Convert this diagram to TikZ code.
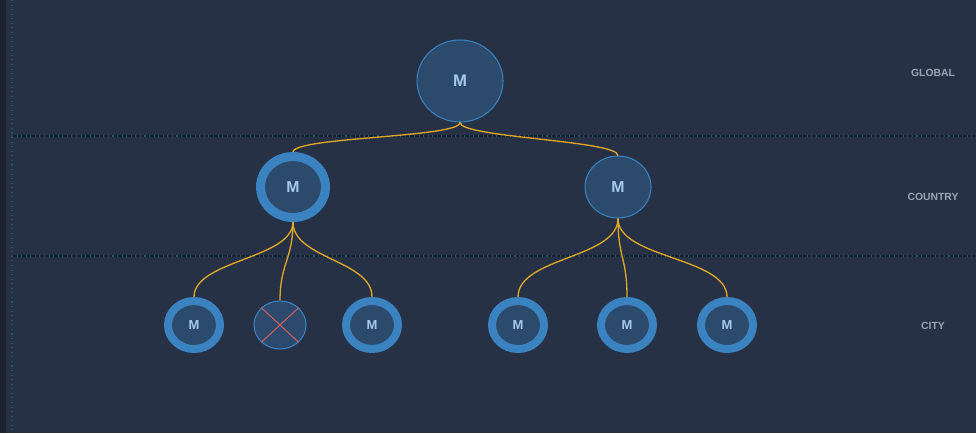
\documentclass[tikz,border=0pt]{standalone}
\usepackage{fontspec}
\setmainfont{Liberation Sans}
\usetikzlibrary{shapes.geometric}
\definecolor{bg}{HTML}{263145}
\definecolor{strip}{HTML}{1E2230}
\definecolor{band}{HTML}{1C202E}
\definecolor{dots}{HTML}{1B5A6A}
\definecolor{nodefill}{HTML}{2C4A6C}
\definecolor{ring}{HTML}{3B82C1}
\definecolor{mtext}{HTML}{A8C9EE}
\definecolor{tier}{HTML}{9BA6B5}
\definecolor{link}{HTML}{E0A828}
\definecolor{cross}{HTML}{D0605E}
\begin{document}
\begin{tikzpicture}[x=0.02cm, y=-0.02cm, every node/.style={inner sep=0pt, font=\bfseries},
    master/.style={ellipse, fill=nodefill, draw=ring, outer sep=auto, text=mtext},
    ringed/.style={master, line width=0.16cm, minimum width=1.04cm, minimum height=0.96cm, font=\bfseries\fontsize{7.4}{8}\selectfont},
    tiername/.style={text=tier, font=\bfseries\fontsize{5.9}{7}\selectfont},
    divider/.style={band, line width=1.7pt},
    conn/.style={link, line width=0.75pt}]
  \fill [bg] (0,0) rectangle (976,433);
  \fill [strip] (0,0) rectangle (6,433);
  \useasboundingbox (0,0) rectangle (976,433);
  \draw [dots, dotted, line width=0.6pt] (12,0) -- (12,433);
  \draw [divider] (12,136) -- (976,136);
  \draw [dots, dotted, line width=0.6pt] (12,136) -- (976,136);
  \draw [divider] (12,256) -- (976,256);
  \draw [dots, dotted, line width=0.6pt] (12,256) -- (976,256);
  % tiers
  \node [tiername] (global) at (933,73) {GLOBAL};
  \node [tiername] (country) at (933,197) {COUNTRY};
  \node [tiername] (city) at (933,326) {CITY};
  % masters
  \node [master, line width=0.6pt, minimum width=1.72cm, minimum height=1.64cm, font=\bfseries\fontsize{9.5}{10}\selectfont] (1) at (460,81) {M};
  \node [master, line width=0.18cm, minimum width=1.30cm, minimum height=1.22cm, font=\bfseries\fontsize{9}{10}\selectfont] (2) at (293,187) {M};
  \node [master, line width=0.6pt, minimum width=1.32cm, minimum height=1.24cm, font=\bfseries\fontsize{9}{10}\selectfont] (3) at (618,187) {M};
  \node [ringed] (4) at (194,325) {M};
  \node [master, line width=0.6pt, minimum width=1.04cm, minimum height=0.96cm] (5) at (280,325) {};
  \node [ringed] (6) at (372,325) {M};
  \node [ringed] (7) at (518,325) {M};
  \node [ringed] (8) at (627,325) {M};
  \node [ringed] (9) at (727,325) {M};
  \draw [cross, line width=0.6pt] (5.north west) -- (5.south east);
  \draw [cross, line width=0.6pt] (5.north east) -- (5.south west);
  % links
  \draw [conn] (1.south) .. controls +(0,15) and +(0,-15) .. (2.north);
  \draw [conn] (1.south) .. controls +(0,15) and +(0,-15) .. (3.north);
  \draw [conn] (2.south) .. controls +(0,37) and +(0,-37) .. (4.north);
  \draw [conn] (2.south) .. controls +(0,37) and +(0,-37) .. (5.north);
  \draw [conn] (2.south) .. controls +(0,37) and +(0,-37) .. (6.north);
  \draw [conn] (3.south) .. controls +(0,40) and +(0,-40) .. (7.north);
  \draw [conn] (3.south) .. controls +(0,40) and +(0,-40) .. (8.north);
  \draw [conn] (3.south) .. controls +(0,40) and +(0,-40) .. (9.north);
\end{tikzpicture}
\end{document}
